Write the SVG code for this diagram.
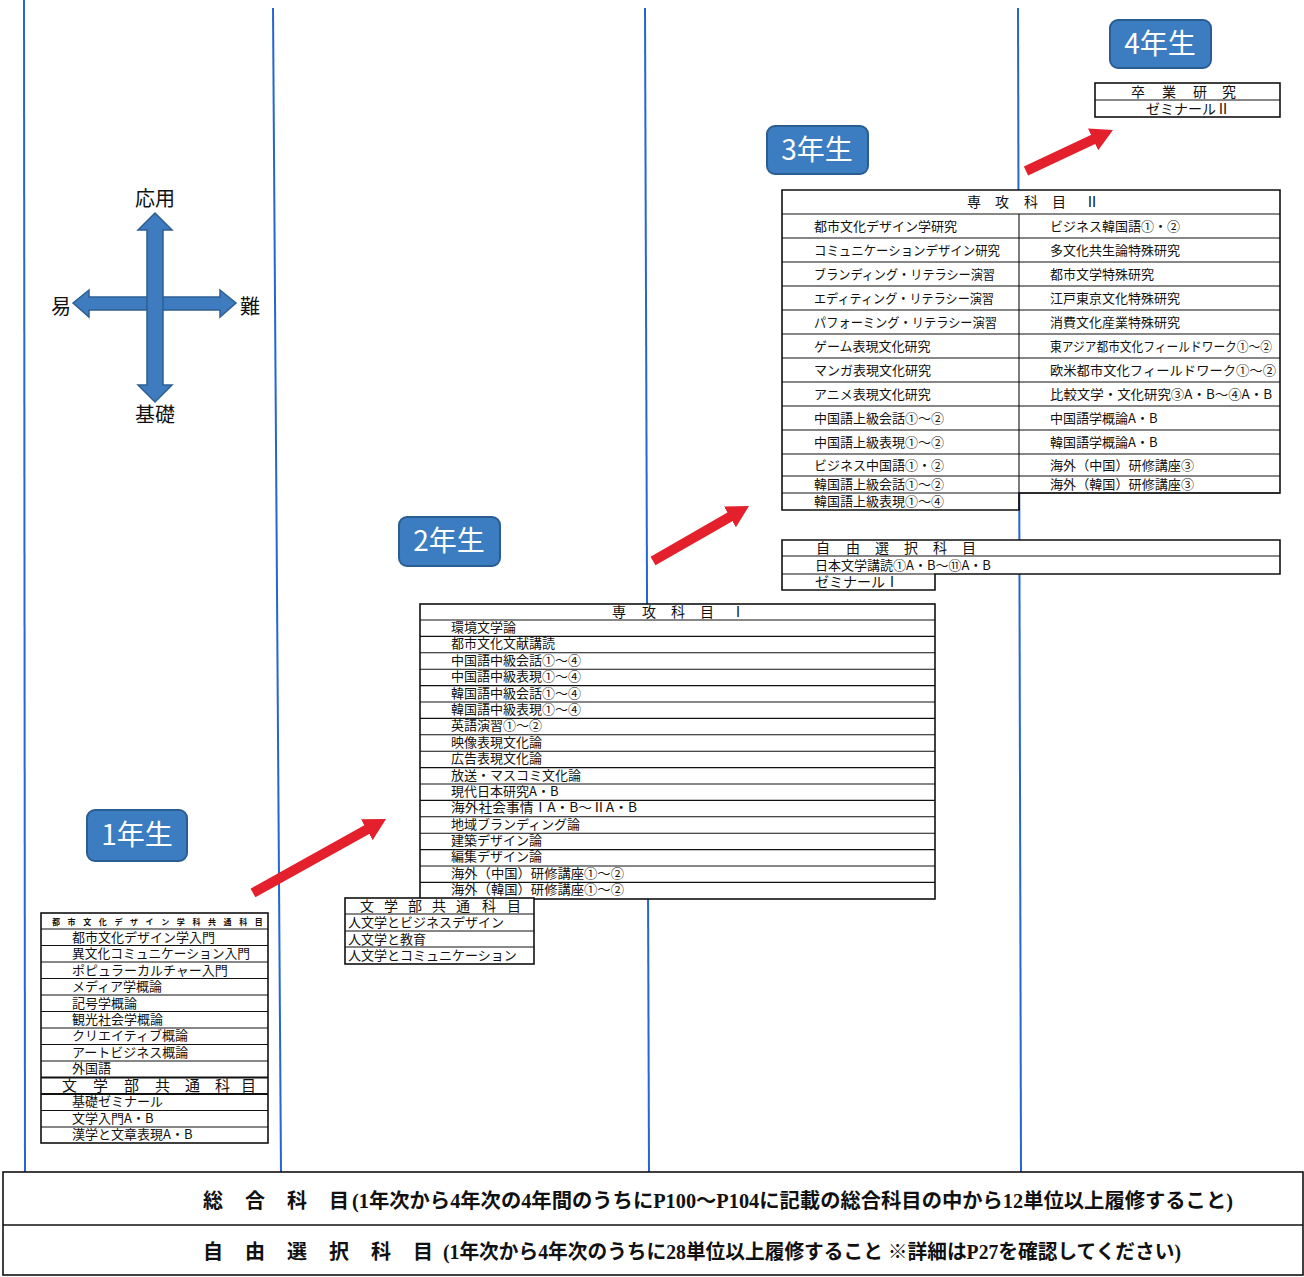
<svg xmlns="http://www.w3.org/2000/svg" width="1304" height="1277" viewBox="0 0 1304 1277">
<defs>
<style>
.vl{stroke:#2466d4;stroke-width:2;fill:none}
.box{fill:#fff;stroke:#111;stroke-width:1.6}
.rl{stroke:#111;stroke-width:1.1;fill:none}
.rlb{stroke:#111;stroke-width:1.8;fill:none}
.t{font-family:"Noto Sans CJK JP","Noto Sans",sans-serif;font-size:13px;fill:#111}
.th{font-family:"Noto Sans CJK JP","Noto Sans",sans-serif;font-size:14px;fill:#111}
.tiny{font-family:"Noto Sans CJK JP",sans-serif;font-size:8px;font-weight:bold;fill:#111}
.bt{font-family:"Liberation Serif","Noto Sans CJK JP",serif;font-size:20px;font-weight:bold;fill:#111}
.badge rect{fill:#3b7dc0;stroke:#2a5d91;stroke-width:2}
.badge text{font-family:"Noto Sans CJK JP",sans-serif;font-size:28px;fill:#fff;text-anchor:middle}
.cmp{fill:#3e7cbf;stroke:#2d5f94;stroke-width:1.5}
.cl{font-family:"Noto Sans CJK JP",sans-serif;font-size:20px;fill:#111}
.ar{stroke:#e3202b;stroke-width:10;fill:none}
</style>
<marker id="rh" viewBox="0 0 22 24" refX="4" refY="12" markerWidth="22" markerHeight="24" markerUnits="userSpaceOnUse" orient="auto">
<path d="M0,0 L22,12 L0,24 z" fill="#e3202b"/>
</marker>
</defs>
<rect width="1304" height="1277" fill="#fff"/>

<g id="columns">
<line class="vl" x1="24" y1="0" x2="25" y2="1172"/>
<line class="vl" x1="273" y1="8" x2="281" y2="1172"/>
<line class="vl" x1="645" y1="8" x2="649" y2="1172"/>
<line class="vl" x1="1018" y1="8" x2="1021" y2="1172"/>
</g>

<g id="compass">
<polygon class="cmp" points="73,303 89,290 89,297 220,297 220,290 236,303 220,317 220,310 89,310 89,317"/>
<polygon class="cmp" points="155,213 172,230 163,230 163,385 172,385 155,402 138,385 147,385 147,230 138,230"/>
<text class="cl" x="155" y="206" text-anchor="middle">応用</text>
<text class="cl" x="61" y="314" text-anchor="middle">易</text>
<text class="cl" x="250" y="314" text-anchor="middle">難</text>
<text class="cl" x="155" y="422" text-anchor="middle">基礎</text>
</g>

<g id="badge-y4" class="badge"><rect x="1110" y="20" width="101" height="48" rx="8"/><text x="1160" y="54">4年生</text></g>
<g id="badge-y3" class="badge"><rect x="767" y="126" width="101" height="48" rx="8"/><text x="817" y="160">3年生</text></g>
<g id="badge-y2" class="badge"><rect x="399" y="517" width="101" height="49" rx="8"/><text x="449" y="551">2年生</text></g>
<g id="badge-y1" class="badge"><rect x="87" y="810" width="100" height="51" rx="8"/><text x="137" y="845">1年生</text></g>

<g id="y4-box">
<rect class="box" x="1095" y="83" width="185" height="34"/>
<line class="rl" x1="1095" y1="100" x2="1280" y2="100"/>
<text class="th" x="1131 1162 1193 1222" y="97">卒業研究</text>
<text class="th" x="1188" y="114" text-anchor="middle">ゼミナールⅡ</text>
</g>

<g id="y3-major">
<path class="box" d="M782,190 H1280 V493 H1019 V510 H782 Z"/>
<line class="rl" x1="782" y1="214" x2="1280" y2="214"/>
<line class="rl" x1="1019" y1="214" x2="1019" y2="510"/>
<path class="rl" d="M782,238H1280M782,262H1280M782,286H1280M782,310H1280M782,334H1280M782,358H1280M782,382H1280M782,406H1280M782,430H1280M782,454H1280M782,476H1280M782,493H1280"/>
<text class="th" x="967 995 1024 1052 1085" y="207">専攻科目Ⅱ</text>
<text class="t" x="814" y="231">都市文化デザイン学研究</text>
<text class="t" x="814" y="255" textLength="186" lengthAdjust="spacingAndGlyphs">コミュニケーションデザイン研究</text>
<text class="t" x="814" y="279" textLength="181" lengthAdjust="spacingAndGlyphs">ブランディング・リテラシー演習</text>
<text class="t" x="814" y="303" textLength="180" lengthAdjust="spacingAndGlyphs">エディティング・リテラシー演習</text>
<text class="t" x="814" y="327" textLength="183" lengthAdjust="spacingAndGlyphs">パフォーミング・リテラシー演習</text>
<text class="t" x="814" y="351">ゲーム表現文化研究</text>
<text class="t" x="814" y="375">マンガ表現文化研究</text>
<text class="t" x="814" y="399">アニメ表現文化研究</text>
<text class="t" x="814" y="423">中国語上級会話①～②</text>
<text class="t" x="814" y="447">中国語上級表現①～②</text>
<text class="t" x="814" y="470">ビジネス中国語①・②</text>
<text class="t" x="814" y="489">韓国語上級会話①～②</text>
<text class="t" x="814" y="506">韓国語上級表現①～④</text>
<text class="t" x="1050" y="231">ビジネス韓国語①・②</text>
<text class="t" x="1050" y="255">多文化共生論特殊研究</text>
<text class="t" x="1050" y="279">都市文学特殊研究</text>
<text class="t" x="1050" y="303">江戸東京文化特殊研究</text>
<text class="t" x="1050" y="327">消費文化産業特殊研究</text>
<text class="t" x="1050" y="351" textLength="222" lengthAdjust="spacingAndGlyphs">東アジア都市文化フィールドワーク①～②</text>
<text class="t" x="1050" y="375" textLength="226" lengthAdjust="spacingAndGlyphs">欧米都市文化フィールドワーク①～②</text>
<text class="t" x="1050" y="399" textLength="222" lengthAdjust="spacingAndGlyphs">比較文学・文化研究③A・B～④A・B</text>
<text class="t" x="1050" y="423">中国語学概論A・B</text>
<text class="t" x="1050" y="447">韓国語学概論A・B</text>
<text class="t" x="1050" y="470" textLength="144" lengthAdjust="spacingAndGlyphs">海外（中国）研修講座③</text>
<text class="t" x="1050" y="489" textLength="144" lengthAdjust="spacingAndGlyphs">海外（韓国）研修講座③</text>
</g>

<g id="y3-free">
<path class="box" d="M782,540 H1280 V574 H935 V590 H782 Z"/>
<line class="rl" x1="782" y1="556" x2="1280" y2="556"/>
<line class="rl" x1="782" y1="574" x2="935" y2="574"/>
<text class="th" x="816 846 875 904 933 962" y="553">自由選択科目</text>
<text class="t" x="815" y="570">日本文学講読①A・B～⑪A・B</text>
<text class="th" x="815" y="587">ゼミナールⅠ</text>
</g>

<g id="y2-major">
<rect class="box" x="420" y="604" width="515" height="295"/>
<line class="rl" x1="420" y1="620" x2="935" y2="620"/>
<path class="rl" d="M420,636.4H935M420,652.8H935M420,669.2H935M420,685.6H935M420,702H935M420,718.4H935M420,734.8H935M420,751.2H935M420,767.6H935M420,784H935M420,800.4H935M420,816.8H935M420,833.2H935M420,849.6H935M420,866H935M420,882.4H935"/>
<text class="th" x="612 642 671 700 731" y="617">専攻科目Ⅰ</text>
<text class="t" x="451" y="632">環境文学論</text>
<text class="t" x="451" y="648">都市文化文献講読</text>
<text class="t" x="451" y="665">中国語中級会話①～④</text>
<text class="t" x="451" y="681">中国語中級表現①～④</text>
<text class="t" x="451" y="698">韓国語中級会話①～④</text>
<text class="t" x="451" y="714">韓国語中級表現①～④</text>
<text class="t" x="451" y="730">英語演習①～②</text>
<text class="t" x="451" y="747">映像表現文化論</text>
<text class="t" x="451" y="763">広告表現文化論</text>
<text class="t" x="451" y="780">放送・マスコミ文化論</text>
<text class="t" x="451" y="796">現代日本研究A・B</text>
<text class="t" x="451" y="812" textLength="186" lengthAdjust="spacingAndGlyphs">海外社会事情ⅠA・B～ⅡA・B</text>
<text class="t" x="451" y="829">地域ブランディング論</text>
<text class="t" x="451" y="845">建築デザイン論</text>
<text class="t" x="451" y="861">編集デザイン論</text>
<text class="t" x="451" y="878" textLength="173" lengthAdjust="spacingAndGlyphs">海外（中国）研修講座①～②</text>
<text class="t" x="451" y="894" textLength="173" lengthAdjust="spacingAndGlyphs">海外（韓国）研修講座①～②</text>
</g>

<g id="y2-common">
<rect class="box" x="345" y="898" width="189" height="66"/>
<path class="rl" d="M345,914H534M345,931H534M345,947H534"/>
<text class="th" x="360 384 408 432 456 482 507" y="911">文学部共通科目</text>
<text class="t" x="348" y="927">人文学とビジネスデザイン</text>
<text class="t" x="348" y="944">人文学と教育</text>
<text class="t" x="348" y="960">人文学とコミュニケーション</text>
</g>

<g id="y1-box">
<rect class="box" x="41" y="913" width="227" height="230"/>
<path class="rl" d="M41,929H268M41,945.5H268M41,962H268M41,978.5H268M41,995H268M41,1011.5H268M41,1028H268M41,1044.5H268M41,1061H268M41,1110.5H268M41,1127H268"/>
<path class="rlb" d="M41,1077.5H268M41,1094H268"/>
<text class="tiny" x="52 67.6 83.2 98.8 114.4 130 145.6 161.2 176.8 192.4 208 223.6 239.2 254.8" y="925">都市文化デザイン学科共通科目</text>
<text class="t" x="72" y="942">都市文化デザイン学入門</text>
<text class="t" x="72" y="958" textLength="178" lengthAdjust="spacingAndGlyphs">異文化コミュニケーション入門</text>
<text class="t" x="72" y="975">ポピュラーカルチャー入門</text>
<text class="t" x="72" y="991">メディア学概論</text>
<text class="t" x="72" y="1008">記号学概論</text>
<text class="t" x="72" y="1024">観光社会学概論</text>
<text class="t" x="72" y="1040">クリエイティブ概論</text>
<text class="t" x="72" y="1057">アートビジネス概論</text>
<text class="t" x="72" y="1073">外国語</text>
<text class="th" x="62 93 124 155 185 215 241" y="1091" style="font-size:15px">文学部共通科目</text>
<text class="t" x="72" y="1106">基礎ゼミナール</text>
<text class="t" x="72" y="1123">文学入門A・B</text>
<text class="t" x="72" y="1139">漢学と文章表現A・B</text>
</g>

<g id="connectors">
<line class="ar" x1="253" y1="893" x2="370.3" y2="827.7" marker-end="url(#rh)"/>
<line class="ar" x1="653" y1="561" x2="733.4" y2="514.9" marker-end="url(#rh)"/>
<line class="ar" x1="1026" y1="171" x2="1096.7" y2="137.7" marker-end="url(#rh)"/>
</g>

<g id="general">
<rect x="3" y="1172" width="1300" height="103" fill="#fff" stroke="#111" stroke-width="1.6"/>
<line x1="3" y1="1225" x2="1303" y2="1225" stroke="#111" stroke-width="1.4"/>
<text class="bt" x="203 245 287 329" y="1208">総合科目</text>
<text class="bt" x="352" y="1208" textLength="881" lengthAdjust="spacingAndGlyphs">(1年次から4年次の4年間のうちにP100～P104に記載の総合科目の中から12単位以上履修すること)</text>
<text class="bt" x="203 245 287 329 371 413" y="1259">自由選択科目</text>
<text class="bt" x="443" y="1259" textLength="738" lengthAdjust="spacingAndGlyphs">(1年次から4年次のうちに28単位以上履修すること ※詳細はP27を確認してください)</text>
</g>
</svg>
